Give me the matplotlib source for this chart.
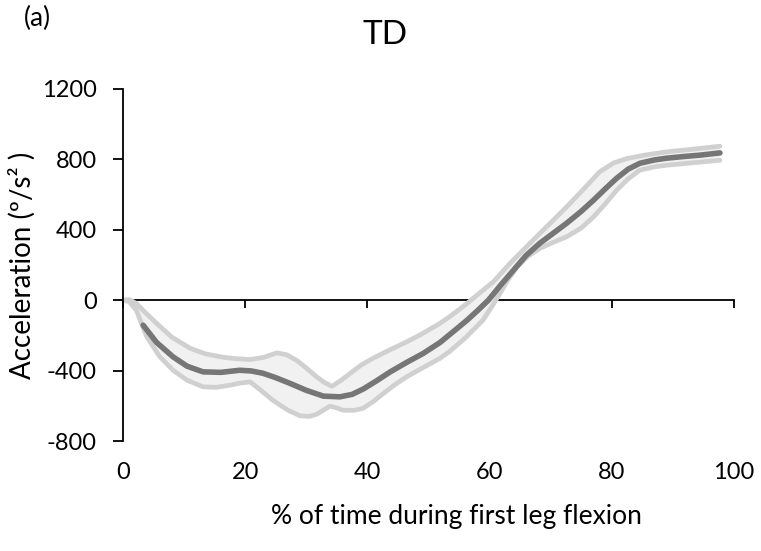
import matplotlib.pyplot as plt

plt.rcParams['font.family'] = ['Lato', 'DejaVu Sans']
plt.rcParams['axes.unicode_minus'] = False

# mean curve (% of time, deg/s^2)
mean_x = [3.3, 5.5, 8.2, 10.5, 13.1, 16.0, 19.1, 21.0, 22.9, 25.0, 27.3, 30.0, 32.8, 35.5, 37.5, 39.3,
          41.5, 43.7, 46.5, 49.1, 51.9, 54.0, 56.3, 58.0, 59.8, 61.8, 63.9, 66.0, 68.2, 70.4, 72.6,
          75.0, 77.0, 79.0, 80.8, 82.7, 84.6, 87.0, 89.0, 92.0, 94.4, 97.7]
mean_y = [-142, -240, -322, -375, -407, -410, -398, -402, -415, -440, -472, -512, -545, -549, -535, -505,
          -458, -408, -352, -303, -240, -180, -114, -60, 0, 85, 170, 255, 323, 380, 437,
          505, 568, 635, 693, 745, 778, 797, 807, 817, 824, 837]

# upper band
up_x = [0, 1.0, 2.2, 3.8, 5.5, 8.0, 11.0, 13.5, 16.4, 18.5, 20.8, 23.0, 25.2, 26.8, 28.4, 30.0,
        31.7, 33.0, 34.2, 35.7, 37.2, 39.0, 40.9, 43.5, 46.4, 49.0, 51.9, 54.0, 56.3, 58.5, 60.6,
        63.5, 67.1, 70.0, 72.6, 75.5, 78.0, 80.3, 82.5, 85.5, 89.0, 93.0, 97.7]
up_y = [0, 4, -19, -75, -131, -210, -273, -305, -324, -332, -337, -325, -299, -310, -341, -385,
        -436, -468, -489, -455, -415, -368, -330, -285, -237, -190, -131, -80, -19, 45, 104,
        215, 341, 440, 530, 635, 729, 780, 805, 825, 843, 857, 875]

# lower band
lo_x = [0, 1.0, 2.2, 3.0, 3.9, 6.0, 8.2, 10.5, 13.1, 15.3, 17.5, 19.0, 20.8, 22.5, 24.5, 27.0, 29.0,
        30.5, 31.7, 33.0, 33.9, 35.0, 36.0, 37.8, 39.3, 41.0, 42.6, 44.5, 46.4, 49.0, 51.9, 53.5,
        56.0, 58.9, 60.3, 61.7, 63.0, 64.5, 66.3, 68.2, 70.5, 72.6, 75.0, 77.0, 79.0, 80.8, 82.7,
        84.6, 87.0, 89.0, 93.0, 97.7]
lo_y = [0, -8, -57, -130, -208, -320, -398, -455, -492, -495, -483, -472, -464, -510, -568, -625, -657,
        -660, -648, -620, -602, -612, -625, -626, -614, -575, -530, -480, -436, -385, -330, -290,
        -215, -114, -40, 38, 115, 189, 250, 294, 330, 360, 410, 473, 550, 625, 690,
        739, 758, 767, 780, 795]

xticks = [0, 20, 40, 60, 80, 100]
yticks = [-800, -400, 0, 400, 800, 1200]

fig = plt.figure(figsize=(7.61, 5.51), dpi=100)
ax = fig.add_axes([0.1616, 0.1996, 0.8029, 0.6389])

ax.fill(up_x + lo_x[::-1], up_y + lo_y[::-1], color='#f1f1f1', lw=0, zorder=1)
ax.plot(up_x, up_y, color='#d0d0d0', lw=3.4, solid_capstyle='round', zorder=2)
ax.plot(lo_x, lo_y, color='#d0d0d0', lw=3.4, solid_capstyle='round', zorder=2)
ax.plot(mean_x, mean_y, color='#767676', lw=4, solid_capstyle='round', zorder=3)

ax.set_xlim(0, 100)
ax.set_ylim(-800, 1200)
ax.set_yticks(yticks)
ax.set_xticks(xticks)

for s in ['top', 'right', 'bottom']:
    ax.spines[s].set_visible(False)
ax.spines['left'].set_linewidth(1.3)
ax.tick_params(axis='y', length=7, width=1.3, pad=12, labelsize=17)
ax.tick_params(axis='x', length=0, pad=15, labelsize=17)

# horizontal axis line drawn through y = 0 with its tick marks
zero_ax = ax.secondary_xaxis(0, transform=ax.transData)
zero_ax.set_xticks(xticks)
zero_ax.tick_params(length=6, width=1.3, labelbottom=False)
zero_ax.spines['bottom'].set_linewidth(1.3)

ax.set_ylabel('Acceleration (º/s² )', fontsize=20, labelpad=4)
fig.text(0.6, 0.062, '% of time during first leg flexion', fontsize=19, ha='center', va='center')
fig.text(0.506, 0.936, 'TD', fontsize=24, ha='center', va='center')
fig.text(0.049, 0.966, '(a)', fontsize=19, ha='center', va='center')

fig.savefig('out.png', dpi=100)
